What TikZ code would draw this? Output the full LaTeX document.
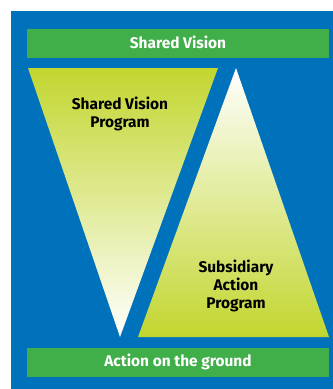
\documentclass[tikz,border=0pt]{standalone}
\usepackage{fontspec}
\setmainfont{Fira Sans}
\usetikzlibrary{positioning}
\definecolor{seablue}{HTML}{0072BC}
\definecolor{bargreen}{HTML}{40AE49}
\definecolor{limegreen}{HTML}{C2D62F}

\begin{document}
\begin{tikzpicture}[x=1bp, y=-1bp]
\tikzstyle{barText} = [text=white, font=\fontsize{15.5}{18}\selectfont\bfseries]
\tikzstyle{triText} = [text=black, font=\fontsize{15.5}{18}\selectfont\bfseries, align=center, inner sep=0pt]

\useasboundingbox (0,0) rectangle (333,389);
\fill[seablue] (11,11) rectangle (333,389);

% green bars
\fill[bargreen] (27,29) rectangle (329,58);
\fill[bargreen] (27,348) rectangle (329,377);

% triangles
\shade[top color=limegreen, bottom color=white] (28,68) -- (218,68) -- (120,337) -- cycle;
\shade[top color=white, bottom color=limegreen] (236,68) -- (329,337) -- (138,337) -- cycle;

\node (vision) [barText] at (178,42) {Shared Vision};
\node (ground) [barText] at (178,362) {Action on the ground};

\node (svp) [triText] at (120,114) {Shared Vision\\Program};
\node (sap) [triText] at (236,286) {Subsidiary\\Action\\Program};

\end{tikzpicture}
\end{document}
